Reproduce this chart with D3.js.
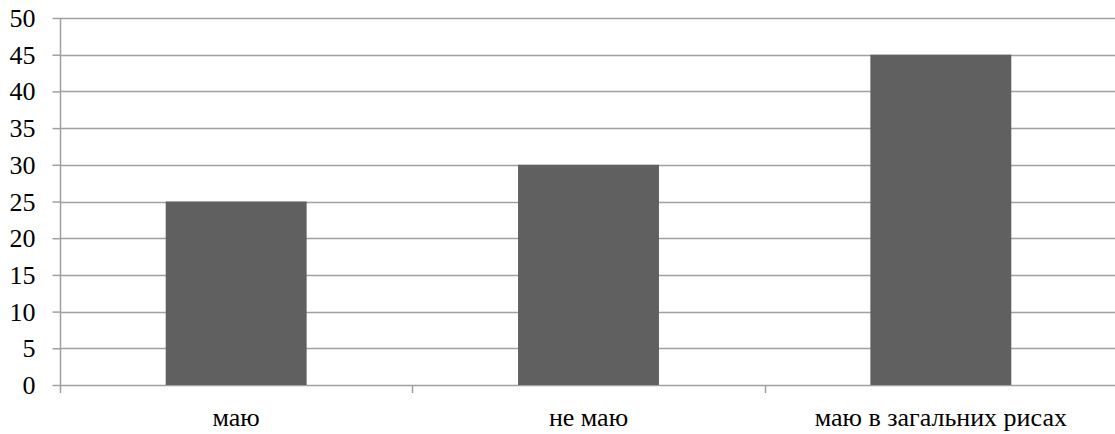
<!DOCTYPE html>
<html>
<head>
<meta charset="utf-8">
<script src="https://cdn.jsdelivr.net/npm/d3@7"></script>
<style>
  html, body { margin: 0; padding: 0; background: #fff; }
  svg { display: block; }
</style>
</head>
<body>
<svg id="chart" width="1115" height="434"></svg>
<script>
// Answer categories and their counts
const categories = ["маю", "не маю", "маю в загальних рисах"];
const values = [25, 30, 45];
const yTicks = [0, 5, 10, 15, 20, 25, 30, 35, 40, 45, 50];

const FONT = '"Liberation Serif"';
const FONT_SIZE = "26px";

const svg = d3.select("#chart");
const margin = { left: 60, top: 18, bottom: 49 };
const plotRight = 1117;
const H = 434;

const x = d3.scaleBand()
  .domain(categories)
  .range([margin.left, plotRight])
  .paddingInner(0.6)
  .paddingOuter(0.3);

const y = d3.scaleLinear()
  .domain([0, 50])
  .range([H - margin.bottom, margin.top]);

const gridColor = "#a0a0a0";

// Horizontal gridlines
svg.append("g")
  .selectAll("line")
  .data(yTicks)
  .join("line")
  .attr("x1", margin.left)
  .attr("x2", plotRight)
  .attr("y1", d => Math.round(y(d)) + 0.5)
  .attr("y2", d => Math.round(y(d)) + 0.5)
  .attr("stroke", gridColor)
  .attr("stroke-width", 1.5);

// Bars
svg.append("g")
  .selectAll("rect")
  .data(values)
  .join("rect")
  .attr("x", (d, i) => x(categories[i]))
  .attr("width", x.bandwidth())
  .attr("y", d => y(d))
  .attr("height", d => y(0) - y(d))
  .attr("fill", "#606060");

// Y axis
const yAxis = d3.axisLeft(y)
  .tickValues(yTicks)
  .tickSize(8)
  .tickPadding(17)
  .tickFormat(d3.format("d"));

const gy = svg.append("g")
  .attr("transform", `translate(${margin.left + 0.5},0)`)
  .call(yAxis);
gy.select(".domain").attr("stroke", gridColor).attr("stroke-width", 1.5)
  .attr("d", `M0,${y(50)}V${y(0) + 8}`);
gy.selectAll(".tick line").attr("stroke", gridColor).attr("stroke-width", 1.5);
gy.selectAll(".tick text")
  .style("font-family", FONT)
  .style("font-size", FONT_SIZE)
  .attr("fill", "#000")
  .attr("dy", "0.33em");

// Category separators below the baseline
const step = x.step();
const bounds = d3.range(categories.length + 1).map(i => margin.left + i * step);
svg.append("g")
  .selectAll("line")
  .data(bounds.slice(1, categories.length))
  .join("line")
  .attr("x1", d => Math.round(d) + 0.5)
  .attr("x2", d => Math.round(d) + 0.5)
  .attr("y1", y(0))
  .attr("y2", y(0) + 8)
  .attr("stroke", gridColor)
  .attr("stroke-width", 1.5);

// Category labels
svg.append("g")
  .selectAll("text")
  .data(categories)
  .join("text")
  .attr("x", d => x(d) + x.bandwidth() / 2)
  .attr("y", 426)
  .attr("text-anchor", "middle")
  .attr("fill", "#000")
  .style("font-family", FONT)
  .style("font-size", FONT_SIZE)
  .text(d => d);
</script>
</body>
</html>
